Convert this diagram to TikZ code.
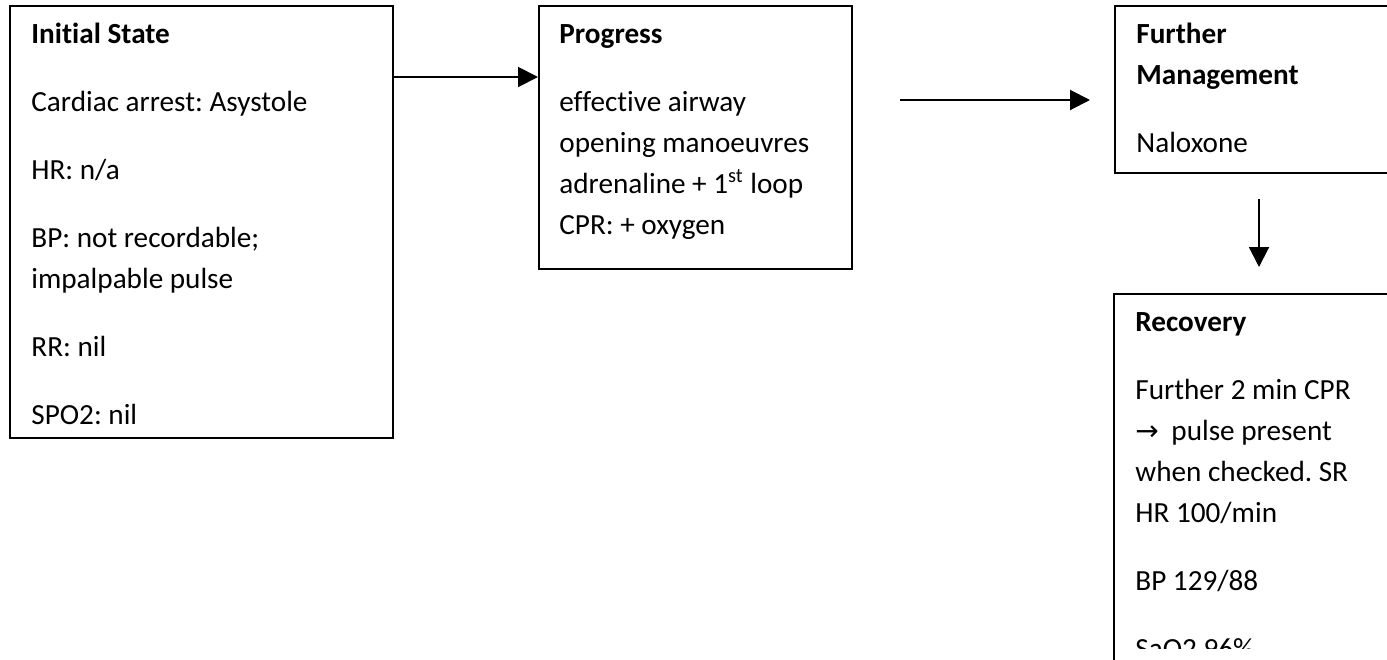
\documentclass[tikz,border=0pt]{standalone}
\usepackage{fontspec}
\setmainfont{Carlito}[Ligatures=NoCommon]
\newfontfamily\arrowfont{DejaVu Sans}
\usetikzlibrary{arrows.meta}
\frenchspacing
\begin{document}
\begin{tikzpicture}[x=0.5pt,y=-0.5pt,
  box/.style={draw, line width=1pt, rectangle, inner sep=0pt, anchor=north west},
  txt/.style={anchor=base west, inner sep=0pt, font=\fontsize{14.6pt}{20.5pt}\selectfont},
  ttl/.style={anchor=base west, inner sep=0pt, font=\fontsize{14.6pt}{20.5pt}\selectfont\bfseries},
  arr/.style={line width=1pt, -{Triangle[length=10pt,width=10pt]}}]
\useasboundingbox (0,0) rectangle (1387,659);
\clip (0,0) rectangle (1387,659);
\fill[white] (0,0) rectangle (1387,659);
% boxes
\node[box, minimum width=191.5pt, minimum height=216pt] (init) at (9,5) {};
\node[box, minimum width=156.5pt, minimum height=131.5pt] (prog) at (538,5) {};
\node[box, minimum width=160pt, minimum height=83.5pt] (fm) at (1114,5) {};
\node[box, minimum width=160pt, minimum height=210pt] (rec) at (1113,293) {};
% initial state texts
\node[ttl] (i1) at (31,43) {Initial State};
\node[txt] (i2) at (31,111) {Cardiac arrest: Asystole};
\node[txt] (i3) at (31,179) {HR: n/a};
\node[txt] (i4) at (31,247) {BP: not recordable;};
\node[txt] (i5) at (31,288) {impalpable pulse};
\node[txt] (i6) at (31,356) {RR: nil};
\node[txt] (i7) at (31,424) {SPO2: nil};
% progress texts
\node[ttl] (p1) at (559,43) {Progress};
\node[txt] (p2) at (559,111) {effective airway};
\node[txt] (p3) at (559,152) {opening manoeuvres};
\node[txt] (p4) at (559,193) {adrenaline + 1\textsuperscript{st} loop};
\node[txt] (p5) at (559,234) {CPR: + oxygen};
% further management texts
\node[ttl] (f1) at (1136,43) {Further};
\node[ttl] (f2) at (1136,84) {Management};
\node[txt] (f3) at (1136,152) {Naloxone};
% recovery texts
\node[ttl] (r1) at (1135,331) {Recovery};
\node[txt] (r2) at (1135,399) {Further 2 min CPR};
\node[txt] (r3) at (1135,440) {{\arrowfont\fontsize{14pt}{20.5pt}\selectfont→}\hspace{3pt} pulse present};
\node[txt] (r4) at (1135,481) {when checked. SR};
\node[txt] (r5) at (1135,522) {HR 100/min};
\node[txt] (r6) at (1135,590) {BP 129/88};
\begin{scope}
\clip (1100,293) rectangle (1387,648);
\node[txt] (r7) at (1135,658) {SaO2 96\%};
\end{scope}
% connectors
\draw[arr] (init.east |- 0,77) -- (prog.west |- 0,77);
\draw[arr, shorten <=23.5pt, shorten >=12pt] (prog.east |- 0,100) -- (fm.west |- 0,100);
\draw[arr, shorten <=12.5pt, shorten >=13pt] (fm.south -| 1259,0) -- (rec.north -| 1259,0);
\end{tikzpicture}
\end{document}
